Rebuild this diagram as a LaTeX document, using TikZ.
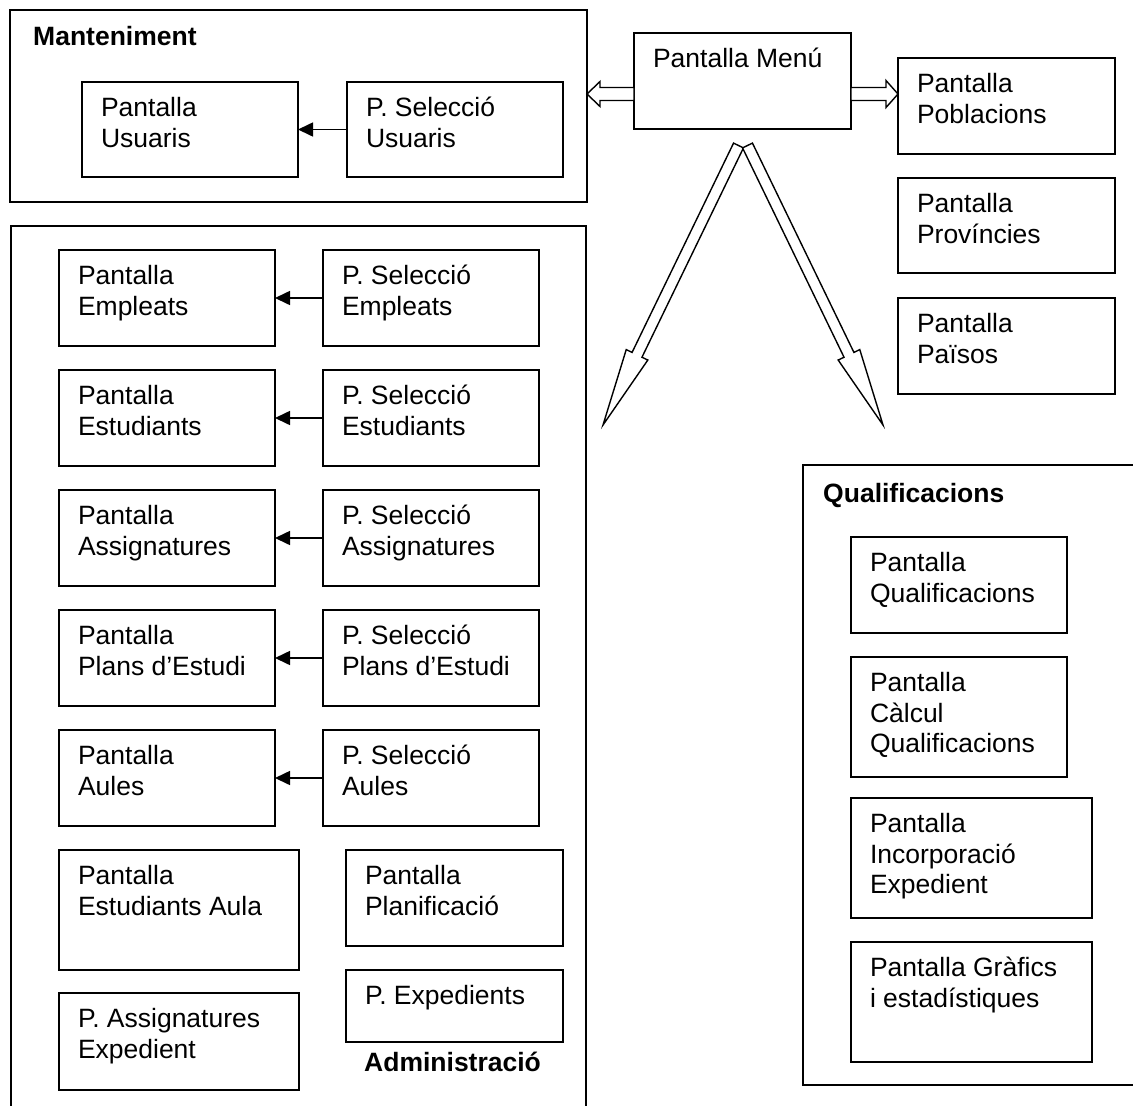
\documentclass[tikz,border=0pt]{standalone}
\usepackage{fontspec}
\setmainfont{Liberation Sans}
\usetikzlibrary{calc,arrows.meta}

% text of a screen box: top-aligned, left-indented lines
\newcommand\boxlines[3]{\parbox[c][#2][t]{#1}{\raggedright\leftskip=19pt\vspace*{13.6pt}\strut #3}}

% hollow block arrow: tail, tip, shaft half width, head half width, head length
\newcommand\hollowarrow[5]{%
  \coordinate (hb) at ($(#2)!#5!(#1)$);
  \draw[hollow] ($(#1)!#3!90:(#2)$) -- ($(hb)!#3!90:(#2)$) -- ($(hb)!#4!90:(#2)$)
    -- (#2) -- ($(hb)!#4!-90:(#2)$) -- ($(hb)!#3!-90:(#2)$) -- ($(#1)!#3!-90:(#2)$) -- cycle;}

\tikzset{
  frame/.style={draw, line width=2pt, rectangle, inner sep=0pt, outer sep=0pt, anchor=north west},
  scrbox/.style={draw, line width=2pt, rectangle, inner sep=0pt, outer sep=0pt, anchor=north west},
  heading/.style={anchor=base west, inner sep=0pt, font=\fontsize{26.5}{30.5}\selectfont\bfseries},
  link/.style={line width=1.6pt, -{Triangle[length=15pt, width=14pt]}},
  hollow/.style={draw, line width=1.4pt, fill=white, line join=miter},
}

\begin{document}
\begin{tikzpicture}[x=1pt, y=-1pt, font=\fontsize{26.5}{30.5}\selectfont]
\useasboundingbox (0,0) rectangle (1133,1106);
\fill[white] (0,0) rectangle (1133,1106);
\clip (0,0) rectangle (1133,1106);

% group frames
\node[frame, minimum width=577pt, minimum height=192pt] (mant) at (10,10) {};
\node[frame, minimum width=575pt, minimum height=920pt] (admin) at (11,226) {};
\node[frame, minimum width=400pt, minimum height=620pt] (qual) at (803,465) {};

\node[heading] (tmant) at (33,45) {Manteniment};
\node[heading] (tadmin) at (364,1071) {Administració};
\node[heading] (tqual) at (823,502) {Qualificacions};

% menu and auxiliary screens
\node[scrbox] (menu) at (634,33) {\boxlines{217pt}{96pt}{Pantalla Menú}};
\node[scrbox] (pobl) at (898,58) {\boxlines{217pt}{96pt}{Pantalla\\Poblacions}};
\node[scrbox] (prov) at (898,178) {\boxlines{217pt}{95pt}{Pantalla\\Províncies}};
\node[scrbox] (pais) at (898,298) {\boxlines{217pt}{96pt}{Pantalla\\Països}};

% maintenance
\node[scrbox] (pusu) at (82,82) {\boxlines{216pt}{95pt}{Pantalla\\Usuaris}};
\node[scrbox] (psusu) at (347,82) {\boxlines{216pt}{95pt}{P. Selecció\\Usuaris}};
\draw[link] (psusu) -- (pusu);

% administration
\node[scrbox] (pemp) at (59,250) {\boxlines{216pt}{96pt}{Pantalla\\Empleats}};
\node[scrbox] (psemp) at (323,250) {\boxlines{216pt}{96pt}{P. Selecció\\Empleats}};
\node[scrbox] (pest) at (59,370) {\boxlines{216pt}{96pt}{Pantalla\\Estudiants}};
\node[scrbox] (psest) at (323,370) {\boxlines{216pt}{96pt}{P. Selecció\\Estudiants}};
\node[scrbox] (pass) at (59,490) {\boxlines{216pt}{96pt}{Pantalla\\Assignatures}};
\node[scrbox] (psass) at (323,490) {\boxlines{216pt}{96pt}{P. Selecció\\Assignatures}};
\node[scrbox] (ppla) at (59,610) {\boxlines{216pt}{96pt}{Pantalla\\Plans d’Estudi}};
\node[scrbox] (pspla) at (323,610) {\boxlines{216pt}{96pt}{P. Selecció\\Plans d’Estudi}};
\node[scrbox] (paul) at (59,730) {\boxlines{216pt}{96pt}{Pantalla\\Aules}};
\node[scrbox] (psaul) at (323,730) {\boxlines{216pt}{96pt}{P. Selecció\\Aules}};
\foreach \a/\b in {psemp/pemp, psest/pest, psass/pass, pspla/ppla, psaul/paul}
  \draw[link] (\a) -- (\b);

\node[scrbox] (pestaula) at (59,850) {\boxlines{240pt}{120pt}{Pantalla\\Estudiants Aula}};
\node[scrbox] (pplanif) at (346,850) {\boxlines{217pt}{96pt}{Pantalla\\Planificació}};
\node[scrbox] (pexped) at (346,970) {\boxlines{217pt}{72pt}{P. Expedients}};
\node[scrbox] (passexp) at (59,993) {\boxlines{240pt}{97pt}{P. Assignatures\\Expedient}};

% grades
\node[scrbox] (pqual) at (851,537) {\boxlines{216pt}{96pt}{Pantalla\\Qualificacions}};
\node[scrbox] (pcalc) at (851,657) {\boxlines{216pt}{120pt}{Pantalla\\Càlcul\\Qualificacions}};
\node[scrbox] (pinc) at (851,798) {\boxlines{241pt}{120pt}{Pantalla\\Incorporació\\Expedient}};
\node[scrbox] (pgraf) at (851,942) {\boxlines{241pt}{120pt}{Pantalla Gràfics\\i estadístiques}};

% block arrows leaving the menu
\coordinate (ylev) at (0,94);
\coordinate (mlt) at (menu.west |- ylev);
\coordinate (mlh) at (mant.east |- ylev);
\coordinate (mrt) at (menu.east |- ylev);
\coordinate (mrh) at (pobl.west |- ylev);
\hollowarrow{mlt}{mlh}{6.5pt}{12.5pt}{13pt}
\hollowarrow{mrt}{mrh}{6.5pt}{13.5pt}{12pt}

\coordinate (dlt) at (738.5,145.5);
\coordinate (dlh) at (603,425);
\coordinate (drt) at (747.5,145.5);
\coordinate (drh) at (883,425);
\hollowarrow{dlt}{dlh}{5.5pt}{12pt}{78pt}
\hollowarrow{drt}{drh}{5.5pt}{12pt}{78pt}
\end{tikzpicture}
\end{document}
